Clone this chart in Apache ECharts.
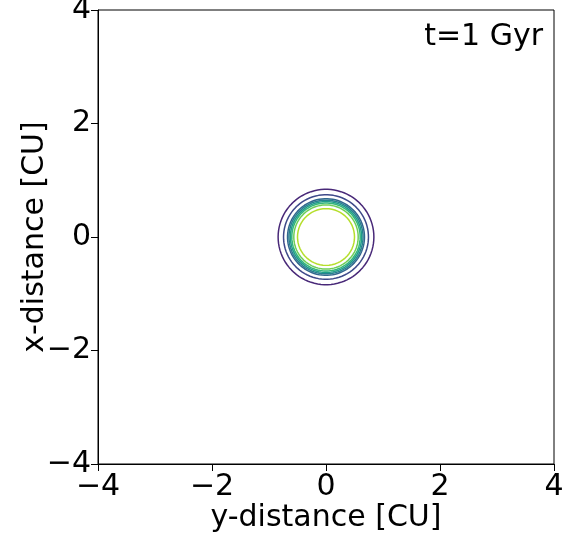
<!DOCTYPE html>
<html><head><meta charset="utf-8">
<script src="https://cdn.jsdelivr.net/npm/echarts@6/dist/echarts.min.js"></script>
<style>html,body{margin:0;padding:0;background:#fff}#c{width:581px;height:538px}</style>
</head><body><div id="c"></div>
<script>
// contour radii (in CU) from innermost (highest level) to outermost
const contourRadii = [0.50, 0.565, 0.600, 0.625, 0.650, 0.675, 0.745, 0.840];
const contourColors = ['#b5de2b','#6ece58','#35b779','#1f9e89','#26828e','#31688e','#3e4989','#482878'];
const centerX = 0, centerY = 0;
const tickValues = [-4, -2, 0, 2, 4];
const xName = 'y-distance [CU]';
const yName = 'x-distance [CU]';
const annotation = 't=1 Gyr';

const series = contourRadii.map((r, i) => {
  const pts = [];
  for (let a = 0; a <= 360; a += 2) {
    const t = a * Math.PI / 180;
    pts.push([centerX + r * Math.cos(t), centerY + r * Math.sin(t)]);
  }
  return {type:'line', data: pts, showSymbol:false, symbol:'none', smooth:false,
    lineStyle:{color: contourColors[i], width:1.5}, silent:true, animation:false};
});

const fmt = v => (v < 0 ? '\u2212' + Math.abs(v) : String(v));
const axisCommon = {
  type:'value', min:-4, max:4, interval:2,
  axisLine:{show:true, onZero:false, lineStyle:{color:'#000', width:1}},
  axisTick:{show:true, inside:false, length:7, lineStyle:{color:'#000', width:1}},
  splitLine:{show:false},
  axisLabel:{formatter: fmt, color:'#000', fontSize:30, fontFamily:'DejaVu Sans'},
  nameLocation:'middle',
  nameMoveOverlap:false,
  nameTextStyle:{color:'#000', fontSize:30, fontFamily:'DejaVu Sans'}
};
const chart = echarts.init(document.getElementById('c'), null, {renderer:'canvas'});
chart.setOption({
  animation:false,
  backgroundColor:'#fff',
  grid:{left:98, right:27, top:10, bottom:74, containLabel:false, outerBoundsMode:'none', show:true, borderColor:'#000', borderWidth:1, backgroundColor:'transparent'},
  xAxis: Object.assign({}, axisCommon, {name:xName, nameGap:39, axisLabel:Object.assign({}, axisCommon.axisLabel, {margin:8})}),
  yAxis: Object.assign({}, axisCommon, {name:yName, nameGap:48, axisLabel:Object.assign({}, axisCommon.axisLabel, {margin:7})}),
  series: series,
  graphic:[{type:'text', right:38, top:22, style:{text:annotation, fill:'#000', fontSize:30, fontFamily:'DejaVu Sans'}}]
});
</script></body></html>
